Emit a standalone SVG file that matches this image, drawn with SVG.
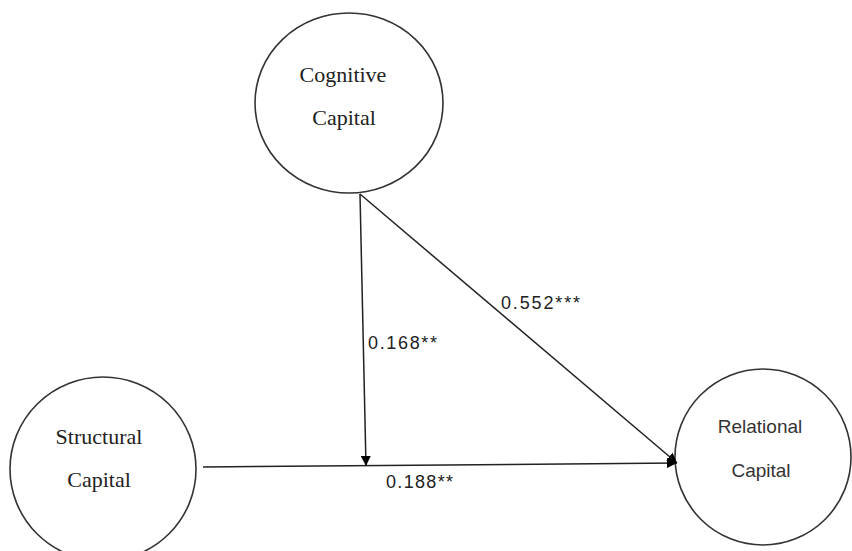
<svg xmlns="http://www.w3.org/2000/svg" width="852" height="551" viewBox="0 0 852 551">
<style>
.node{fill:#fff;stroke:#333;stroke-width:1.6}
.serif{font-family:"Liberation Serif","Times New Roman",serif;font-size:22px;fill:#222;text-anchor:middle}
.sans{font-family:"Liberation Sans",Arial,sans-serif;font-size:19px;fill:#333;text-anchor:middle}
.lbl{font-family:"Liberation Sans",Arial,sans-serif;font-size:18px;fill:#222}
.edge{stroke:#222;stroke-width:1.5;fill:none}
</style>
<defs>
<marker id="arr" viewBox="0 0 10 10" refX="10" refY="5" markerWidth="10" markerHeight="10" markerUnits="userSpaceOnUse" orient="auto">
<path d="M0,0 L10,5 L0,10 Z" fill="#000"/>
</marker>
</defs>
<rect width="852" height="551" fill="#fff"/>
<g id="cognitive">
<ellipse class="node" cx="349" cy="103" rx="94" ry="90"/>
<text class="serif" x="343" y="82">Cognitive</text>
<text class="serif" x="344" y="125">Capital</text>
</g>
<g id="structural">
<ellipse class="node" cx="103" cy="469" rx="93" ry="92"/>
<text class="serif" x="99" y="444">Structural</text>
<text class="serif" x="99" y="487">Capital</text>
</g>
<g id="relational">
<ellipse class="node" cx="763" cy="457" rx="88" ry="88"/>
<text class="sans" x="760" y="433">Relational</text>
<text class="sans" x="761" y="477">Capital</text>
</g>
<g id="connectors">
<line class="edge" x1="203" y1="467" x2="677" y2="463" marker-end="url(#arr)"/>
<line class="edge" x1="360" y1="194" x2="366" y2="466" marker-end="url(#arr)"/>
<line class="edge" x1="360" y1="194" x2="677" y2="463" marker-end="url(#arr)"/>
<text class="lbl" x="368" y="349" textLength="69" lengthAdjust="spacing">0.168**</text>
<text class="lbl" x="501" y="309" textLength="79" lengthAdjust="spacing">0.552***</text>
<text class="lbl" x="386" y="488" textLength="67" lengthAdjust="spacing">0.188**</text>
</g>
</svg>
